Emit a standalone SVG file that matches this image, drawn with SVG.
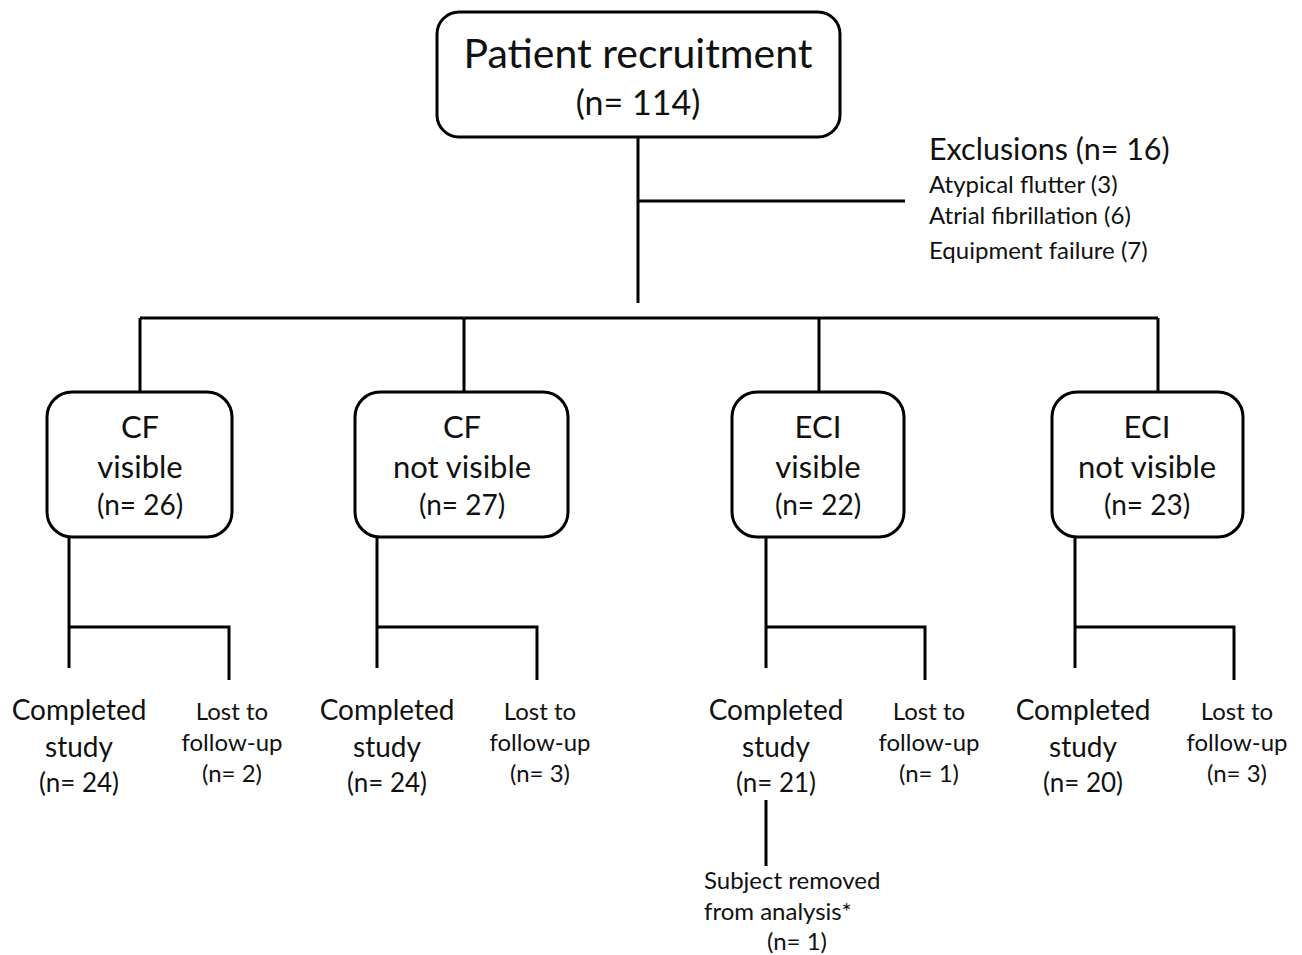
<svg xmlns="http://www.w3.org/2000/svg" width="1302" height="955" viewBox="0 0 1302 955">
<style>
.box{fill:#fff;stroke:#000;stroke-width:3}
.ln{stroke:#000;stroke-width:3;fill:none}
text{font-family:Lato,"Open Sans","Liberation Sans",sans-serif;fill:#111}
.c{text-anchor:middle}
.big{font-size:41px}
.m{font-size:31px}
.bn{font-size:28px}
.s{font-size:24px}
.b{font-size:28px}
.bnn{font-size:26px}
</style>
<rect width="1302" height="955" fill="#fff"/>
<g id="connectors">
<path class="ln" d="M638 137V303M638 201H905"/>
<path class="ln" d="M140 318H1158M140 318V392M464 318V392M819 318V392M1158 318V392"/>
<path class="ln" d="M69 537V668M69 627H229V680"/>
<path class="ln" d="M377 537V668M377 627H537V680"/>
<path class="ln" d="M766 537V668M766 627H925V680"/>
<path class="ln" d="M1075 537V668M1075 627H1234V680"/>
<path class="ln" d="M766 800V866"/>
</g>
<g id="recruitment">
<rect class="box" x="437" y="12" width="403" height="125" rx="22"/>
<text class="c big" x="638" y="68">Patient recruitment</text>
<text class="c" x="638" y="115" style="font-size:34px">(n= 114)</text>
</g>
<g id="exclusions">
<text x="929" y="160" style="font-size:30.5px">Exclusions (n= 16)</text>
<text class="s" x="929" y="193">Atypical flutter (3)</text>
<text class="s" x="929" y="224">Atrial fibrillation (6)</text>
<text class="s" x="929" y="259">Equipment failure (7)</text>
</g>
<g id="cf-visible">
<rect class="box" x="47" y="392" width="185" height="145" rx="25"/>
<text class="c m" x="140" y="438">CF</text>
<text class="c m" x="140" y="478">visible</text>
<text class="c bn" x="140" y="515">(n= 26)</text>
</g>
<g id="cf-not-visible">
<rect class="box" x="355" y="392" width="213" height="145" rx="25"/>
<text class="c m" x="462" y="438">CF</text>
<text class="c m" x="462" y="478">not visible</text>
<text class="c bn" x="462" y="515">(n= 27)</text>
</g>
<g id="eci-visible">
<rect class="box" x="732" y="392" width="172" height="145" rx="25"/>
<text class="c m" x="818" y="438">ECI</text>
<text class="c m" x="818" y="478">visible</text>
<text class="c bn" x="818" y="515">(n= 22)</text>
</g>
<g id="eci-not-visible">
<rect class="box" x="1052" y="392" width="191" height="145" rx="25"/>
<text class="c m" x="1147" y="438">ECI</text>
<text class="c m" x="1147" y="478">not visible</text>
<text class="c bn" x="1147" y="515">(n= 23)</text>
</g>
<g id="cf-vis-completed">
<text class="c b" x="79" y="720">Completed</text>
<text class="c b" x="79" y="757">study</text>
<text class="c bnn" x="79" y="792">(n= 24)</text>
</g>
<g id="cf-vis-lost">
<text class="c s" x="232" y="720">Lost to</text>
<text class="c s" x="232" y="751">follow-up</text>
<text class="c s" x="232" y="782">(n= 2)</text>
</g>
<g id="cf-notvis-completed">
<text class="c b" x="387" y="720">Completed</text>
<text class="c b" x="387" y="757">study</text>
<text class="c bnn" x="387" y="792">(n= 24)</text>
</g>
<g id="cf-notvis-lost">
<text class="c s" x="540" y="720">Lost to</text>
<text class="c s" x="540" y="751">follow-up</text>
<text class="c s" x="540" y="782">(n= 3)</text>
</g>
<g id="eci-vis-completed">
<text class="c b" x="776" y="720">Completed</text>
<text class="c b" x="776" y="757">study</text>
<text class="c bnn" x="776" y="792">(n= 21)</text>
</g>
<g id="eci-vis-lost">
<text class="c s" x="929" y="720">Lost to</text>
<text class="c s" x="929" y="751">follow-up</text>
<text class="c s" x="929" y="782">(n= 1)</text>
</g>
<g id="eci-notvis-completed">
<text class="c b" x="1083" y="720">Completed</text>
<text class="c b" x="1083" y="757">study</text>
<text class="c bnn" x="1083" y="792">(n= 20)</text>
</g>
<g id="eci-notvis-lost">
<text class="c s" x="1237" y="720">Lost to</text>
<text class="c s" x="1237" y="751">follow-up</text>
<text class="c s" x="1237" y="782">(n= 3)</text>
</g>
<g id="removed">
<text class="s" x="704" y="889">Subject removed</text>
<text class="s" x="704" y="920">from analysis*</text>
<text class="c s" x="797" y="950">(n= 1)</text>
</g>
</svg>
